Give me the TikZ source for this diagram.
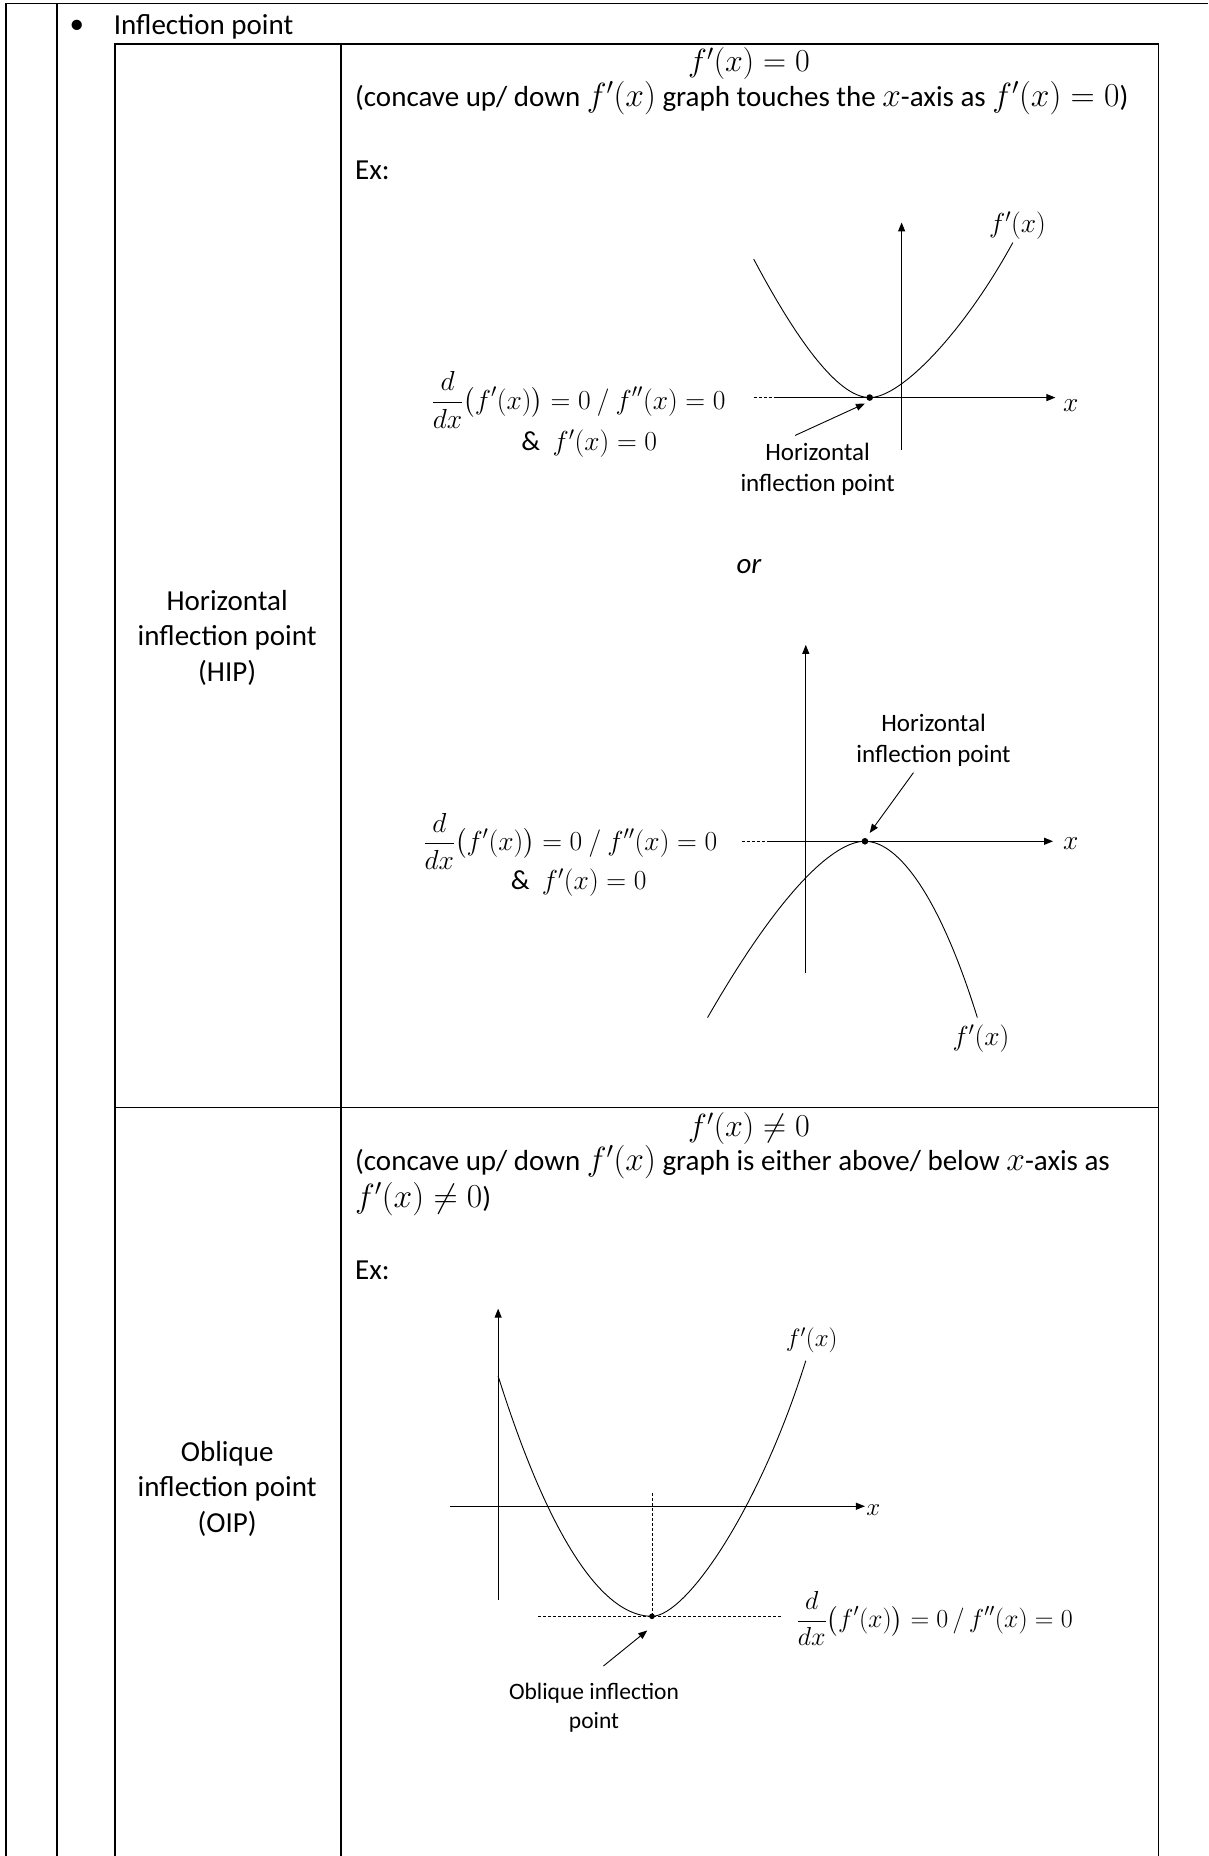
\RequirePackage{fix-cm}
\documentclass[tikz,border=0pt]{standalone}
\usepackage{amsmath}
\usepackage{fontspec}
\setmainfont{Carlito}
\usetikzlibrary{arrows.meta}
\newcommand{\tmth}[1]{{\fontsize{33.5}{35.5}\selectfont$#1$}}
\newcommand{\tmtt}[1]{{\fontsize{32}{35.5}\selectfont$#1$}}
\begin{document}
\begin{tikzpicture}[x=1.1832pt,y=-1.1832pt,
  tab/.style={line width=1.7pt},
  txt/.style={font=\fontsize{29}{36.5}\selectfont, inner sep=0pt},
  glab/.style={font=\fontsize{25}{31}\selectfont, inner sep=0pt, align=center},
  mlab/.style={font=\fontsize{27.5}{32}\selectfont, inner sep=0pt},
  axline/.style={line width=1pt, -{Triangle[length=9pt,width=7pt]}},
  crv/.style={line width=0.9pt},
  tandash/.style={line width=0.9pt, dash pattern=on 3pt off 2pt},
  ptr/.style={line width=0.9pt, -{Triangle[length=9pt,width=7pt]}},
]
\useasboundingbox (0,0) rectangle (1021,1568.6);
% ---------- table lines ----------
\coordinate (tl) at (5,3);
\coordinate (tr) at (1021,3);
\draw[tab] (5,1568.6) -- (tl) -- (tr);
\draw[tab] (48,3) -- (48,1568.6);
\draw[tab] (97,1568.6) -- (97,37) -- (979,37) -- (979,1568.6);
\draw[tab] (288,37) -- (288,1568.6);
\draw[tab] (97,936) -- (979,936);
% ---------- header ----------
\node[txt] (bul) at (65,23) {\textbullet};
\node[txt, anchor=west] (title) at (96,23) {Inflection point};
% ---------- cell 1 ----------
\node[txt] (c1a) at (633,54) {\tmtt{f'(x)=0}};
\node[txt, anchor=west] (c1b) at (300,83) {(concave up/ down \tmth{f'(x)} graph touches the \tmth{x}-axis as \tmth{f'(x)=0})};
\node[txt, anchor=west] (ex1) at (300,144) {Ex:};
\node[txt, align=center, font=\fontsize{29}{35.5}\selectfont] (hip) at (192,539) {Horizontal\\inflection point\\(HIP)};
% graph 1
\coordinate (a1b) at (762,380);
\coordinate (a1t) at (762,188);
\coordinate (x1l) at (657,336);
\coordinate (x1r) at (892,336);
\coordinate (t1l) at (637,336);
\coordinate (t1r) at (810,336);
\coordinate (p1) at (735,336);
\draw[axline] (a1b) -- (a1t);
\draw[axline] (x1l) -- (x1r);
\draw[tandash] (t1l) -- (t1r);
\draw[crv] (637,219) .. controls (680,300) and (712,336) .. (p1)
           .. controls (762,336) and (815,280) .. (856,205);
\fill (p1) circle (2.8);
\node[mlab] (x1) at (905,343) {$x$};
\node[mlab] (f1) at (860,191) {$f'(x)$};
\node[glab] (h1) at (691,397) {Horizontal\\inflection point};
\coordinate (h1s) at (672,368);
\coordinate (h1e) at (731,341);
\draw[ptr] (h1s) -- (h1e);
\node[mlab] (e1a) at (489,338) {$\displaystyle\frac{d}{dx}\bigl(f'(x)\bigr)=0\ /\ f''(x)=0$};
\node[mlab] (e1b) at (498,375) {$\&\ \ f'(x)=0$};
% or
\node[txt] (orw) at (633,479) {\itshape or};
% graph 2
\coordinate (a2b) at (681,822);
\coordinate (a2t) at (681,545);
\coordinate (x2l) at (649,711);
\coordinate (x2r) at (890,711);
\coordinate (t2l) at (627,711);
\coordinate (t2r) at (865,711);
\coordinate (p2) at (731,711);
\draw[axline] (a2b) -- (a2t);
\draw[axline] (x2l) -- (x2r);
\draw[tandash] (t2l) -- (t2r);
\draw[crv] (598,860) .. controls (660,752) and (705,711) .. (p2)
           .. controls (760,711) and (795,760) .. (826,860);
\fill (p2) circle (2.8);
\node[mlab] (x2) at (905,713) {$x$};
\node[mlab] (f2) at (829,878) {$f'(x)$};
\node[glab] (h2) at (789,626) {Horizontal\\inflection point};
\coordinate (h2s) at (772,653);
\coordinate (h2e) at (735,704);
\draw[ptr] (h2s) -- (h2e);
\node[mlab] (e2a) at (482,711) {$\displaystyle\frac{d}{dx}\bigl(f'(x)\bigr)=0\ /\ f''(x)=0$};
\node[mlab] (e2b) at (489,746) {$\&\ \ f'(x)=0$};
% ---------- cell 2 ----------
\node[txt] (c2a) at (633,954) {\tmtt{f'(x)\neq 0}};
\node[txt, anchor=north west, align=left] (c2b) at (300,968) {(concave up/ down \tmth{f'(x)} graph is either above/ below \tmth{x}-axis as\\\tmth{f'(x)\neq 0})};
\node[txt, anchor=west] (ex2) at (300,1074) {Ex:};
\node[txt, align=center, font=\fontsize{29}{35.5}\selectfont] (oip) at (192,1258) {Oblique\\inflection point\\(OIP)};
% graph 3
\coordinate (a3b) at (421,1352);
\coordinate (a3t) at (421,1106);
\coordinate (x3l) at (380,1273);
\coordinate (x3r) at (731,1273);
\coordinate (p3) at (551,1366);
\coordinate (v3t) at (551,1262);
\coordinate (t3l) at (455,1366);
\coordinate (t3r) at (660,1366);
\draw[axline] (a3b) -- (a3t);
\draw[axline] (x3l) -- (x3r);
\draw[tandash] (v3t) -- (p3);
\draw[tandash] (t3l) -- (t3r);
\draw[crv] (421,1163) parabola bend (p3) (p3)
           .. controls (580,1366) and (642,1275) .. (681,1150);
\fill (p3) circle (2.4);
\node[mlab, font=\fontsize{25}{30}\selectfont] (x3) at (738,1276) {$x$};
\node[mlab, font=\fontsize{25}{30}\selectfont] (f3) at (686,1133) {$f'(x)$};
\node[mlab, font=\fontsize{26}{30}\selectfont] (e3) at (790,1368) {$\displaystyle\frac{d}{dx}\bigl(f'(x)\bigr)=0\,/\,f''(x)=0$};
\node[glab, font=\fontsize{23.5}{29}\selectfont] (o3) at (502,1443) {Oblique inflection\\point};
\coordinate (o3s) at (510,1408);
\coordinate (o3e) at (547,1378);
\draw[ptr] (o3s) -- (o3e);
\end{tikzpicture}
\end{document}
